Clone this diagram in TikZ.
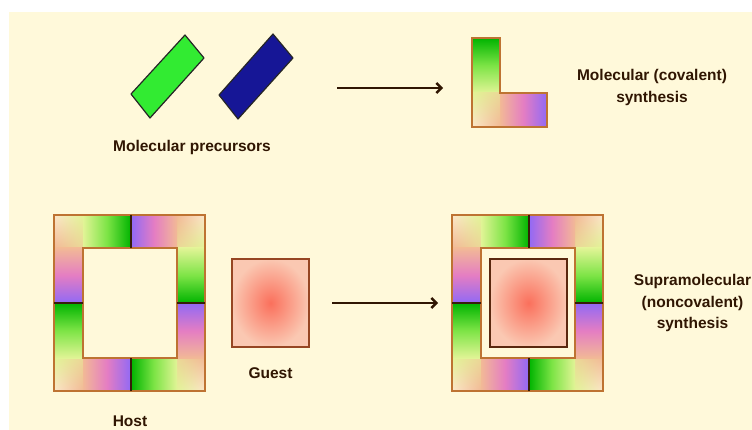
\documentclass[tikz,border=0pt]{standalone}
\usepackage{fontspec}
\setmainfont{Liberation Sans}
\usetikzlibrary{arrows.meta,shadings}

\definecolor{bgcream}{RGB}{255,249,218}
\definecolor{inkbrown}{RGB}{48,22,2}
\definecolor{edgeorange}{RGB}{190,115,50}
\definecolor{seamdark}{RGB}{55,30,10}
\definecolor{gdark}{RGB}{0,180,0}
\definecolor{glight}{RGB}{125,228,70}
\definecolor{gpale}{RGB}{225,244,150}
\definecolor{ppeach}{RGB}{242,185,150}
\definecolor{ppink}{RGB}{228,125,195}
\definecolor{ppurple}{RGB}{145,105,245}
\definecolor{ccream}{RGB}{252,230,202}
\definecolor{cmix}{RGB}{235,215,151}
\definecolor{rodgreen}{RGB}{50,235,50}
\definecolor{rodblue}{RGB}{22,22,150}
\definecolor{guestcore}{RGB}{250,112,92}
\definecolor{guestrim}{RGB}{250,200,178}
\definecolor{guestedge}{RGB}{150,70,35}
\definecolor{guestedgedark}{RGB}{90,40,15}

% arm shadings: the green arm ends dark green, the purple arm ends violet
\tikzset{
  gR/.style={left color=gpale,right color=gdark,middle color=glight},
  gL/.style={left color=gdark,right color=gpale,middle color=glight},
  gU/.style={top color=gdark,bottom color=gpale,middle color=glight},
  gD/.style={top color=gpale,bottom color=gdark,middle color=glight},
  pR/.style={left color=ppeach,right color=ppurple,middle color=ppink},
  pL/.style={left color=ppurple,right color=ppeach,middle color=ppink},
  pU/.style={top color=ppurple,bottom color=ppeach,middle color=ppink},
  pD/.style={top color=ppeach,bottom color=ppurple,middle color=ppink},
  edgeline/.style={draw=edgeorange,line width=1.3pt},
  seamline/.style={draw=seamdark,line width=1.4pt},
  rod/.style={draw=black!85,line width=1.2pt,line join=round},
  labeltext/.style={text=inkbrown,font=\fontsize{15.5}{21.5}\selectfont\bfseries,
    align=center,inner sep=0pt},
  reaction/.style={draw=inkbrown,line width=2.2pt,
    -{Straight Barb[length=5pt,width=10pt,line width=2.4pt]}},
}

% corner square of an L piece, four corner colours (ul, ur, ll, lr)
\newcommand{\cornerpatch}[6]{%
  \shade[upper left=#3,upper right=#4,lower left=#5,lower right=#6] #1 rectangle #2;}

% ring of four L pieces arranged as a pinwheel
\newcommand{\hostring}[1]{%
  \begin{scope}[shift={(#1,0)}]
    % top-left piece
    \cornerpatch{(54,215)}{(83,248)}{ccream}{gpale}{ppeach}{cmix}
    \shade[gR] (83,215) rectangle (131,248);
    \shade[pD] (54,248) rectangle (83,303);
    % top-right piece
    \cornerpatch{(177,215)}{(205,248)}{ppeach}{ccream}{cmix}{gpale}
    \shade[pL] (131,215) rectangle (177,248);
    \shade[gD] (177,248) rectangle (205,303);
    % bottom-right piece
    \cornerpatch{(177,358)}{(205,391)}{cmix}{ppeach}{gpale}{ccream}
    \shade[pU] (177,303) rectangle (205,358);
    \shade[gL] (131,358) rectangle (177,391);
    % bottom-left piece
    \cornerpatch{(54,358)}{(83,391)}{gpale}{cmix}{ccream}{ppeach}
    \shade[gU] (54,303) rectangle (83,358);
    \shade[pR] (83,358) rectangle (131,391);
    % outlines and joints between pieces
    \draw[edgeline] (54,215) rectangle (205,391);
    \draw[edgeline] (83,248) rectangle (177,358);
    \draw[seamline] (131,215) -- (131,248);
    \draw[seamline] (54,303) -- (83,303);
    \draw[seamline] (177,303) -- (205,303);
    \draw[seamline] (131,358) -- (131,391);
  \end{scope}}

\begin{document}
\begin{tikzpicture}[x=1pt,y=-1pt]
  \useasboundingbox (0,0) rectangle (752,430);
  \fill[white] (0,0) rectangle (752,430);
  \fill[bgcream] (9,12) rectangle (752,430);

  % molecular precursors
  \draw[rod,fill=rodgreen] (131,94) -- (185,35) -- (204,58) -- (150,118) -- cycle;
  \draw[rod,fill=rodblue] (219,95) -- (273,34) -- (293,58) -- (238,119) -- cycle;
  \node[labeltext] (precursors) at (192,147) {Molecular precursors};

  % covalent product: L-shaped molecule
  \shade[gU] (472,38) rectangle (500,93);
  \cornerpatch{(472,93)}{(500,127)}{gpale}{cmix}{ccream}{ppeach}
  \shade[pR] (500,93) rectangle (547,127);
  \draw[edgeline] (472,38) -- (500,38) -- (500,93) -- (547,93) -- (547,127)
    -- (472,127) -- cycle;
  \node[labeltext] (covalent) at (652,87.5) {Molecular (covalent)\\synthesis};

  % reaction arrows
  \coordinate (r1a) at (337,88);
  \coordinate (r1b) at (443,88);
  \draw[reaction] (r1a) -- (r1b);
  \coordinate (r2a) at (332,303);
  \coordinate (r2b) at (438,303);
  \draw[reaction] (r2a) -- (r2b);

  % host
  \hostring{0}
  \node[labeltext] (host) at (130,421) {Host};

  % guest
  \shade[inner color=guestcore,outer color=guestrim] (232,259) rectangle (309,347);
  \draw[draw=guestedge,line width=1.5pt] (232,259) rectangle (309,347);
  \node[labeltext] (guest) at (270.5,373) {Guest};

  % host-guest complex
  \hostring{398}
  \shade[inner color=guestcore,outer color=guestrim] (490,259) rectangle (567,347);
  \draw[draw=guestedgedark,line width=2pt] (490,259) rectangle (567,347);
  \node[labeltext] (supra) at (692.5,303) {Supramolecular\\(noncovalent)\\synthesis};
\end{tikzpicture}
\end{document}
